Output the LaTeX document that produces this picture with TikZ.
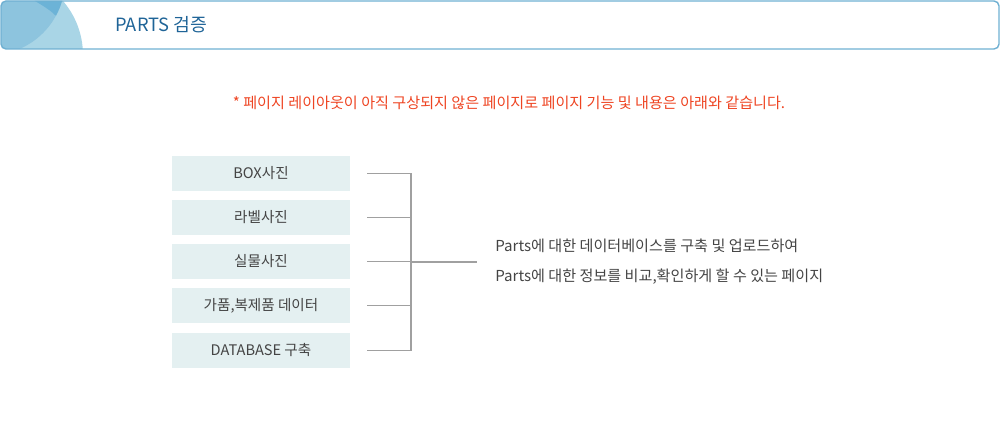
\documentclass[tikz,border=0pt]{standalone}
\usepackage{fontspec}
\setmainfont{Noto Sans CJK KR}
\usetikzlibrary{positioning,calc}
\definecolor{hdrline}{HTML}{6FB0D2}
\definecolor{hdrtitle}{HTML}{1F6497}
\definecolor{blueA}{HTML}{A9D5E6}
\definecolor{blueB}{HTML}{8DC4DE}
\definecolor{blueC}{HTML}{6CB3D7}
\definecolor{notered}{HTML}{EE4422}
\definecolor{boxfill}{HTML}{E4F0F1}
\definecolor{txtgray}{HTML}{444444}
\definecolor{wiregray}{HTML}{A0A0A0}
\tikzset{
        block/.style={fill=boxfill, minimum width=3.56cm, minimum height=0.7cm, inner sep=0pt,
                      text=txtgray, font=\fontsize{8.3}{10}\selectfont},
        wire/.style={draw=wiregray, line width=0.6pt}
    }

\begin{document}
\begin{tikzpicture}[x=0.02cm, y=-0.02cm]
    \useasboundingbox (0,0) rectangle (1000,422);

    % header bar
    \begin{scope}
        \clip[rounded corners=0.1cm] (1,1) rectangle (999,49);
        \fill[blueA] (0,55) circle (1.66cm);
        \fill[blueB] (-10,-20) circle (1.5cm);
        \clip (-10,-20) circle (1.5cm);
        \fill[blueC] (30,-2) .. controls (40,4) and (49,9) .. (55,15) -- (70,25) -- (80,-5) -- cycle;
    \end{scope}
    \draw[hdrline, line width=0.8pt, rounded corners=0.1cm] (1,1) rectangle (999,49);
    \node[anchor=west, inner sep=0pt, text=hdrtitle, font=\fontsize{10.4}{12}\selectfont] (title) at (115,25) {PARTS 검증};

    % note
    \node[text=notered, font=\fontsize{8.6}{10}\selectfont] (note) at (509,103)
        {* 페이지 레이아웃이 아직 구상되지 않은 페이지로 페이지 기능 및 내용은 아래와 같습니다.};

    % item blocks
    \node[block] (box)  at (261,173.5) {BOX사진};
    \node[block] (lab)  at (261,217.5) {라벨사진};
    \node[block] (real) at (261,261.5) {실물사진};
    \node[block] (fake) at (261,305.5) {가품,복제품 데이터};
    \node[block] (db)   at (261,350.5) {DATABASE 구축};

    % description
    \node[anchor=west, align=left, inner xsep=0pt, text=txtgray, font=\fontsize{8.6}{17}\selectfont] (desc) at (495,262)
        {Parts에 대한 데이터베이스를 구축 및 업로드하여\\Parts에 대한 정보를 비교,확인하게 할 수 있는 페이지};

    % connections
    \coordinate (hub) at (411,262);
    \foreach \n in {box,lab,real,fake,db}
        \draw[wire, shorten <=0.34cm] (\n.east) -- (\n.east -| hub);
    \draw[wire] (box.east -| hub) -- (db.east -| hub);
    \draw[wire, shorten >=0.36cm] (hub) -- (desc.west);

\end{tikzpicture}
\end{document}
